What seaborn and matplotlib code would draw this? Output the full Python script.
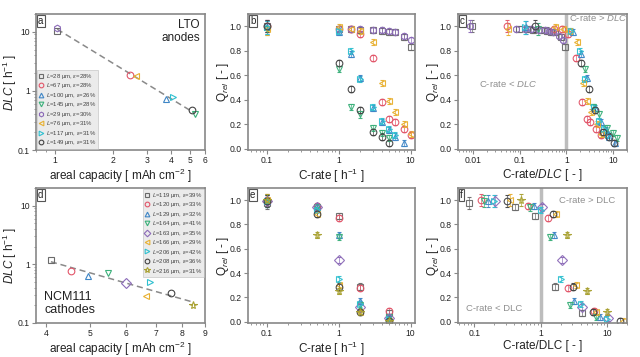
import numpy as np
import matplotlib
matplotlib.use("Agg")
import matplotlib.pyplot as plt
import seaborn as sns
from matplotlib.ticker import NullFormatter

sns.set_theme(style="white")
plt.rcParams["font.family"] = ["Liberation Sans", "DejaVu Sans"]
plt.rcParams["mathtext.fontset"] = "custom"
plt.rcParams["mathtext.rm"] = "Liberation Sans"
plt.rcParams["mathtext.it"] = "Liberation Sans:italic"

# ---- LTO anodes (panels a-c)
lto_labels = ["$L$=28 µm, $\\varepsilon$=28%", "$L$=67 µm, $\\varepsilon$=28%",
              "$L$=100 µm, $\\varepsilon$=26%", "$L$=145 µm, $\\varepsilon$=28%",
              "$L$=29 µm, $\\varepsilon$=30%", "$L$=76 µm, $\\varepsilon$=31%",
              "$L$=117 µm, $\\varepsilon$=31%", "$L$=149 µm, $\\varepsilon$=31%"]
lto_cap = [1.03, 2.45, 3.75, 5.3, 1.03, 2.65, 4.1, 5.15]
lto_dlc = [10.5, 1.85, 0.72, 0.40, 11.8, 1.80, 0.78, 0.48]
lto_crate = [0.1, 1, 1.5, 2, 3, 4, 5, 6, 8, 10]
nan = np.nan
lto_q = [
    [1.00, 0.98, 0.98, 0.97, 0.97, 0.965, 0.955, 0.95, 0.91, 0.83],
    [1.00, 0.98, 0.98, 0.94, 0.74, 0.385, 0.245, 0.22, 0.16, 0.11],
    [0.99, 0.95, 0.77, 0.58, 0.33, 0.22, 0.15, 0.10, 0.05, nan],
    [0.98, 0.65, 0.34, 0.28, 0.17, 0.13, 0.09, nan, nan, nan],
    [1.00, 0.98, 0.98, 0.975, 0.97, 0.97, 0.96, 0.955, 0.92, 0.89],
    [0.98, 0.99, 0.98, 0.96, 0.87, 0.54, 0.39, 0.30, 0.20, 0.12],
    [0.99, 0.96, 0.80, 0.57, 0.34, 0.23, 0.16, 0.11, nan, nan],
    [1.00, 0.70, 0.49, 0.32, 0.14, 0.10, 0.05, nan, nan, nan],
]
lto_colors = ["#6b6b6b", "#e2566a", "#3f86c6", "#3bb07a", "#8c6bb8", "#e8b030", "#2fc0d0", "#444444"]
lto_markers = ["s", "o", "^", "v", "h", "<", ">", "o"]

# ---- NCM111 cathodes (panels d-f)
ncm_labels = ["$L$=119 µm, $\\varepsilon$=39%", "$L$=120 µm, $\\varepsilon$=33%",
              "$L$=129 µm, $\\varepsilon$=32%", "$L$=164 µm, $\\varepsilon$=41%",
              "$L$=163 µm, $\\varepsilon$=35%", "$L$=166 µm, $\\varepsilon$=29%",
              "$L$=206 µm, $\\varepsilon$=42%", "$L$=208 µm, $\\varepsilon$=36%",
              "$L$=216 µm, $\\varepsilon$=31%"]
ncm_cap = [4.1, 4.55, 4.95, 5.5, 6.0, 6.65, 6.8, 7.55, 8.45]
ncm_dlc = [1.2, 0.78, 0.63, 0.72, 0.48, 0.29, 0.50, 0.32, 0.20]
ncm_crate = [0.1, 0.5, 1, 2, 5]
ncm_q = [
    [0.98, 0.945, 0.87, 0.29, 0.07],
    [1.00, 0.95, 0.85, 0.28, 0.085],
    [0.99, 0.955, 0.71, 0.17, 0.04],
    [0.99, 0.94, 0.70, 0.14, 0.04],
    [0.99, 0.94, 0.51, 0.12, 0.03],
    [1.00, 0.89, 0.30, 0.08, 0.01],
    [0.99, 0.92, 0.35, 0.15, 0.02],
    [0.99, 0.89, 0.29, 0.08, 0.01],
    [1.00, 0.71, 0.25, 0.08, 0.01],
]
ncm_colors = ["#6b6b6b", "#e2566a", "#3f86c6", "#3bb07a", "#8c6bb8", "#e8b030", "#2fc0d0", "#444444", "#a8a030"]
ncm_markers = ["s", "o", "^", "v", "D", "<", ">", "o", "*"]

err_first = 0.05   # error at 0.1 C
err_rest = 0.025

spine_c = "#888888"
txt_c = "#222222"
fs_lab = 8.5
fs_tick = 6.2


def style_ax(ax, letter):
    for s in ax.spines.values():
        s.set_color(spine_c)
        s.set_linewidth(1.2)
    ax.tick_params(which="both", direction="out", color=spine_c, labelsize=fs_tick,
                   labelcolor=txt_c, bottom=True, left=True, pad=1.5)
    ax.tick_params(which="major", length=3, width=0.8)
    ax.tick_params(which="minor", length=1.5, width=0.6)
    ax.yaxis.set_label_coords(-0.10, 0.5)
    ax.text(0.012, 0.985, letter, transform=ax.transAxes, va="top", ha="left", fontsize=7,
            color=txt_c, bbox=dict(boxstyle="square,pad=0.15", fc="white", ec="#555555", lw=0.8))


def dlc_panel(ax, cap, dlc, labels, colors, markers, xticks, xlim, loc):
    for c, d, lab, col, m in zip(cap, dlc, labels, colors, markers):
        ax.plot(c, d, linestyle="none", marker=m, ms=4.8 if m != "*" else 5.8,
                mfc="none", mec=col, mew=0.8, label=lab)
    k, b = np.polyfit(np.log10(cap), np.log10(dlc), 1)
    xs = np.array([min(cap), max(cap)])
    sns.lineplot(x=xs, y=10 ** (b + k * np.log10(xs)), ax=ax, color="#8a8a8a",
                 linestyle=(0, (4, 2.5)), linewidth=1.1, zorder=1)
    ax.set_xscale("log")
    ax.set_yscale("log")
    ax.set_xlim(*xlim)
    ax.set_ylim(0.1, 20)
    ax.set_xticks(xticks, labels=[str(t) for t in xticks])
    ax.xaxis.set_minor_formatter(NullFormatter())
    ax.set_yticks([0.1, 1, 10], labels=["0.1", "1", "10"])
    ax.set_xlabel("areal capacity [ mAh cm$^{-2}$ ]", fontsize=fs_lab, color=txt_c, labelpad=1)
    ax.set_ylabel("$DLC$ [ h$^{-1}$ ]", fontsize=fs_lab, color=txt_c)
    leg = ax.legend(loc=loc, fontsize=4.3, frameon=True, fancybox=False, handlelength=0.8,
                    handletextpad=0.5, labelspacing=0.08, borderpad=0.3, borderaxespad=0.15,
                    markerscale=0.7)
    leg.get_frame().set_facecolor("#e6e6e6")
    leg.get_frame().set_edgecolor("#bbbbbb")
    leg.get_frame().set_linewidth(0.5)
    for t in leg.get_texts():
        t.set_color("#444444")


def q_panel(ax, crate, q, dlc, colors, markers, xlim, xticks, normalize):
    crate = np.array(crate)
    for qq, d, col, m in zip(q, dlc, colors, markers):
        x = crate / d if normalize else crate
        err = [err_first] + [err_rest] * (len(crate) - 1)
        ax.errorbar(x, qq, yerr=err, linestyle="none", marker=m,
                    ms=4.8 if m != "*" else 5.8, mfc="none", mec=col, mew=0.8,
                    ecolor=col, elinewidth=0.5, capsize=1.2, capthick=0.5, alpha=0.95)
    ax.set_xscale("log")
    ax.set_xlim(*xlim)
    ax.set_ylim(-0.01, 1.1)
    ax.set_xticks(xticks, labels=[f"{t:g}" for t in xticks])
    ax.xaxis.set_minor_formatter(NullFormatter())
    ax.set_yticks(np.arange(0, 1.01, 0.2), labels=[f"{v:.1f}" for v in np.arange(0, 1.01, 0.2)])
    ax.set_ylabel("Q$_{rel}$ [ - ]", fontsize=fs_lab, color=txt_c)


fig = plt.figure(figsize=(6.4, 3.57), dpi=100)
W, H = 640, 357


def add(l, r, t, b):
    return fig.add_axes([l / W, 1 - b / H, (r - l) / W, (b - t) / H])


ax_a = add(36, 205, 14, 150)
ax_b = add(248, 415, 14, 150)
ax_c = add(458, 627, 14, 150)
ax_d = add(36, 205, 188, 323)
ax_e = add(248, 415, 188, 323)
ax_f = add(458, 627, 188, 323)

dlc_panel(ax_a, lto_cap, lto_dlc, lto_labels, lto_colors, lto_markers,
          [1, 2, 3, 4, 5, 6], (0.8, 6), "lower left")
ax_a.text(0.97, 0.96, "LTO\nanodes", transform=ax_a.transAxes, ha="right", va="top",
          fontsize=8.5, color=txt_c, linespacing=1.1)
style_ax(ax_a, "a")

dlc_panel(ax_d, ncm_cap, ncm_dlc, ncm_labels, ncm_colors, ncm_markers,
          [4, 5, 6, 7, 8, 9], (3.8, 9), "upper right")
ax_d.text(0.05, 0.05, "NCM111\ncathodes", transform=ax_d.transAxes, ha="left", va="bottom",
          fontsize=9, color=txt_c, linespacing=1.1)
style_ax(ax_d, "d")

q_panel(ax_b, lto_crate, lto_q, lto_dlc, lto_colors, lto_markers, (0.055, 11.5), [0.1, 1, 10], False)
ax_b.set_xlabel("C-rate [ h$^{-1}$ ]", fontsize=fs_lab, color=txt_c, labelpad=1)
style_ax(ax_b, "b")

q_panel(ax_e, ncm_crate, ncm_q, ncm_dlc, ncm_colors, ncm_markers, (0.055, 11.5), [0.1, 1, 10], False)
ax_e.set_xlabel("C-rate [ h$^{-1}$ ]", fontsize=fs_lab, color=txt_c, labelpad=1)
style_ax(ax_e, "e")

q_panel(ax_c, lto_crate, lto_q, lto_dlc, lto_colors, lto_markers, (0.0047, 20), [0.01, 0.1, 1, 10], True)
ax_c.axvline(1, color="#bdbdbd", lw=2.5, zorder=0)
ax_c.set_xlabel("C-rate/$DLC$ [ - ]", fontsize=fs_lab, color=txt_c, labelpad=1)
ax_c.text(1.15, 1.065, "C-rate > $DLC$", fontsize=6.8, color="#8f8f8f", va="center", ha="left")
ax_c.text(0.013, 0.53, "C-rate < $DLC$", fontsize=6.8, color="#8f8f8f", va="center", ha="left")
style_ax(ax_c, "c")

q_panel(ax_f, ncm_crate, ncm_q, ncm_dlc, ncm_colors, ncm_markers, (0.057, 20), [0.1, 1, 10], True)
ax_f.axvline(1, color="#bdbdbd", lw=2.5, zorder=0)
ax_f.set_xlabel("C-rate/DLC [ - ]", fontsize=fs_lab, color=txt_c, labelpad=1)
ax_f.text(1.9, 1.0, "C-rate > DLC", fontsize=6.8, color="#8f8f8f", va="center", ha="left")
ax_f.text(0.075, 0.11, "C-rate < DLC", fontsize=6.8, color="#8f8f8f", va="center", ha="left")
style_ax(ax_f, "f")

fig.savefig("out.png", dpi=100, facecolor="white")
